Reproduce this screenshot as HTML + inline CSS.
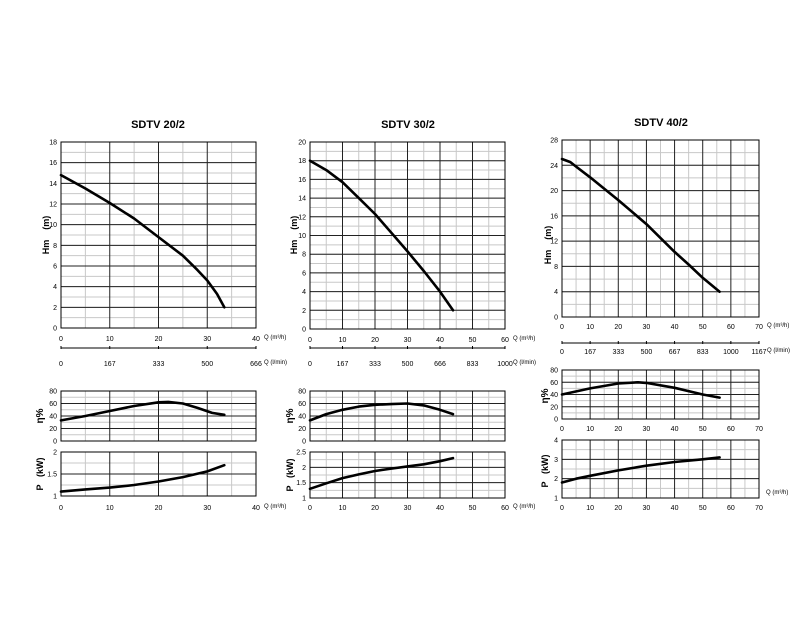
<!DOCTYPE html>
<html><head><meta charset="utf-8"><style>
html,body{margin:0;padding:0;background:#fff;}
svg{display:block;font-family:"Liberation Sans",sans-serif;}
</style></head><body>
<svg id="chart" width="800" height="640" viewBox="0 0 800 640"></svg>
<script>
// ---- data ----
const p1HmQ=[0,5,10,15,20,25,28,30,32,33.5];
const p1Hm=[14.8,13.5,12.1,10.6,8.8,7,5.6,4.6,3.3,2];
const p1EffQ=[0,5,10,15,20,22,25,28,31,33.5];
const p1Eff=[33,40,48,56,62,62.5,60,53,45,42];
const p1PQ=[0,5,10,15,20,25,30,33.5];
const p1P=[1.1,1.15,1.19,1.25,1.33,1.43,1.56,1.7];

const p2HmQ=[0,5,10,15,20,25,30,35,40,44];
const p2Hm=[18,17,15.7,14,12.3,10.3,8.3,6.2,4,2];
const p2EffQ=[0,5,10,15,20,25,30,35,40,44];
const p2Eff=[33,43,50,55,58,59,60,57,50,43];
const p2PQ=[0,5,10,15,20,25,30,35,40,44];
const p2P=[1.3,1.48,1.65,1.77,1.88,1.96,2.03,2.1,2.2,2.3];

const p3HmQ=[0,3,5,10,20,30,40,45,50,56];
const p3Hm=[25,24.5,23.8,22.1,18.5,14.7,10.3,8.3,6.2,4];
const p3EffQ=[0,10,20,27,30,40,50,56];
const p3Eff=[40,50,58,60,59,51,40,35];
const p3PQ=[0,5,10,20,30,40,50,56];
const p3P=[1.8,2,2.15,2.43,2.67,2.86,3.0,3.1];

const titles=["SDTV 20/2","SDTV 30/2","SDTV 40/2"];
const xTicks1=[0,10,20,30,40];
const xTicks2=[0,10,20,30,40,50,60];
const xTicks3=[0,10,20,30,40,50,60,70];
const lmin1=["0","167","333","500","666"];
const lmin2=["0","167","333","500","666","833","1000"];
const lmin3=["0","167","333","500","667","833","1000","1167"];
const hmTicks1=[0,2,4,6,8,10,12,14,16,18];
const hmTicks2=[0,2,4,6,8,10,12,14,16,18,20];
const hmTicks3=[0,4,8,12,16,20,24,28];
const effTicks=[0,20,40,60,80];
const pTicks1=[1,1.5,2];
const pTicks2=[1,1.5,2,2.5];
const pTicks3=[1,2,3,4];

const NS="http://www.w3.org/2000/svg";
const svg=document.getElementById('chart');
function mk(tag,attrs,parent){const e=document.createElementNS(NS,tag);for(const k in attrs)e.setAttribute(k,attrs[k]);(parent||svg).appendChild(e);return e;}
function txt(x,y,s,size,anchor,bold,rot,parent){const t=mk('text',{x:x,y:y,'font-size':size,'text-anchor':anchor||'middle',fill:'#000'},parent);if(bold)t.setAttribute('font-weight','bold');if(rot)t.setAttribute('transform','rotate(-90 '+x+' '+y+')');t.textContent=s;return t;}

function plot(name,x0,x1,xmax,y0,y1,ymin,ymax,major,minor,xs,ys,yticks,fmt,xtickArr,xtickY,qlabel){
  const g=mk('g',{});
  
  
  const sx=v=>x0+(v/xmax)*(x1-x0);
  const sy=v=>y0-(v-ymin)/(ymax-ymin)*(y0-y1);
  for(let v=ymin+minor;v<ymax-1e-9;v+=minor){mk('line',{x1:x0,x2:x1,y1:sy(v),y2:sy(v),stroke:'#c8c8c8','stroke-width':1},g);}
  for(let q=5;q<xmax;q+=10){mk('line',{x1:sx(q),x2:sx(q),y1:y1,y2:y0,stroke:'#c8c8c8','stroke-width':1},g);}
  for(let v=ymin+major;v<ymax-1e-9;v+=major){mk('line',{x1:x0,x2:x1,y1:sy(v),y2:sy(v),stroke:'#222','stroke-width':1},g);}
  for(let q=10;q<xmax;q+=10){mk('line',{x1:sx(q),x2:sx(q),y1:y1,y2:y0,stroke:'#222','stroke-width':1},g);}
  mk('rect',{x:x0,y:y1,width:x1-x0,height:y0-y1,fill:'none',stroke:'#000','stroke-width':1},g);
  for(const t of yticks){const l=txt(x0-4,sy(t)+2.5,fmt(t),7,'end',false,false,g);}
  if(xtickArr){for(const t of xtickArr){const l=txt(sx(t),xtickY,String(t),7,'middle',false,false,g);}}
  if(qlabel){const l=txt(x1+8,xtickY-2,qlabel,6,'start',false,false,g);}
  let d='';xs.forEach((q,i)=>{d+=(i?'L':'M')+sx(q).toFixed(1)+','+sy(ys[i]).toFixed(1);});
  const p=mk('path',{d:d,fill:'none',stroke:'#000','stroke-width':2.6,'stroke-linejoin':'round','stroke-linecap':'round'},g);
  
  
}
function lminAxis(x0,x1,y,labels,ly){
  const g=mk('g',{});
  
  
  mk('line',{x1:x0,x2:x1,y1:y,y2:y,stroke:'#000','stroke-width':1},g);
  labels.forEach((s,i)=>{const x=x0+i*(x1-x0)/(labels.length-1);mk('line',{x1:x,x2:x,y1:y-2,y2:y+1,stroke:'#000'},g);txt(x,ly,s,7,'middle',false,false,g);});
  txt(x1+8,ly-2,'Q (l/min)',6,'start',false,false,g);
}
const f0=v=>String(v), f1=v=>(v%1?v.toFixed(1):String(v));
const HM='Hm\u00a0\u00a0\u00a0\u00a0(m)', PK='P\u00a0\u00a0\u00a0(kW)';

// Panel 1
txt(158,128,titles[0],11,'middle',true);
plot('head-plot-1',61,256,40,328,142,0,18,2,1,p1HmQ,p1Hm,hmTicks1,f0,xTicks1,341,'Q (m³/h)');
txt(49,235,HM,9,'middle',true,true);
lminAxis(61,256,348,lmin1,366);
plot('eff-plot-1',61,256,40,441,391,0,80,20,10,p1EffQ,p1Eff,effTicks,f0,null,0,null);
txt(43,416,'η%',10,'middle',true,true);
plot('power-plot-1',61,256,40,496,452,1,2,0.5,0.25,p1PQ,p1P,pTicks1,f1,xTicks1,510,'Q (m³/h)');
txt(43,474,PK,9,'middle',true,true);

// Panel 2
txt(408,128,titles[1],11,'middle',true);
plot('head-plot-2',310,505,60,329,142,0,20,2,1,p2HmQ,p2Hm,hmTicks2,f0,xTicks2,342,'Q (m³/h)');
txt(297,235,HM,9,'middle',true,true);
lminAxis(310,505,348,lmin2,366);
plot('eff-plot-2',310,505,60,441,391,0,80,20,10,p2EffQ,p2Eff,effTicks,f0,null,0,null);
txt(293,416,'η%',10,'middle',true,true);
plot('power-plot-2',310,505,60,498,452,1,2.5,0.5,0.25,p2PQ,p2P,pTicks2,f1,xTicks2,510,'Q (m³/h)');
txt(293,475,PK,9,'middle',true,true);

// Panel 3
txt(661,126,titles[2],11,'middle',true);
plot('head-plot-3',562,759,70,317,140,0,28,4,2,p3HmQ,p3Hm,hmTicks3,f0,xTicks3,329,'Q (m³/h)');
txt(551,245,HM,9,'middle',true,true);
lminAxis(562,759,343,lmin3,354);
plot('eff-plot-3',562,759,70,419,370,0,80,20,10,p3EffQ,p3Eff,effTicks,f0,xTicks3,431,null);
txt(548,396,'η%',10,'middle',true,true);
plot('power-plot-3',562,759,70,498,440,1,4,1,0.5,p3PQ,p3P,pTicks3,f0,xTicks3,510,null);
txt(766,494,'Q (m³/h)',6,'start');
txt(548,471,PK,9,'middle',true,true);
</script>
</body></html>
